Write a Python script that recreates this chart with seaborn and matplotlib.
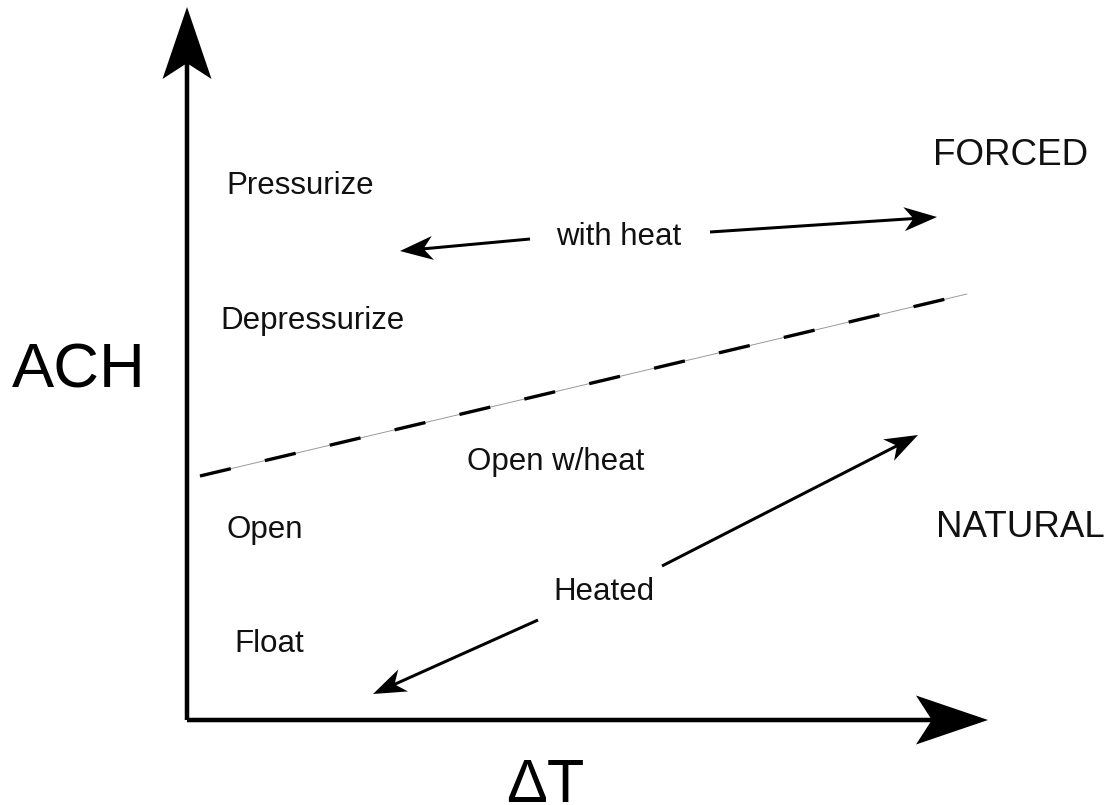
import matplotlib
matplotlib.use('Agg')
import matplotlib.pyplot as plt
import seaborn as sns
import pandas as pd

# conceptual plane: origin at the axis corner, ΔT to the right, ACH up
labels = ['Pressurize', 'Depressurize', 'with heat', 'Open w/heat', 'Open', 'Heated', 'Float']
label_x = [39, 33, 369, 280, 40, 366, 47]
label_y = [526, 391, 475, 250, 182, 120, 68]

regime_labels = ['FORCED', 'NATURAL']
regime_x = [746, 749]
regime_y = [555, 183]

# boundary between forced and natural regimes
boundary_dT = [13, 780]
boundary_ach = [244, 426]

# trend arrows (start -> tip)
arrow_start_x = [343, 523, 475, 351]
arrow_start_y = [481, 488, 154, 100]
arrow_tip_x = [213, 750, 731, 186]
arrow_tip_y = [469, 503, 285, 26]

axis_len_x = 801
axis_len_y = 713

sns.set_theme(style='white')
plt.rcParams['font.family'] = ['Liberation Sans', 'DejaVu Sans']

fig = plt.figure(figsize=(11.09, 8.05), dpi=100)
ax = fig.add_axes([0, 0, 1, 1])
ax.set_xlim(-187, 922)
ax.set_ylim(-85, 720)
ax.axis('off')

# main axes as big arrows
ax.arrow(0, 0, 0, axis_len_y, width=4.5, head_width=49, head_length=72,
         overhang=0.2, length_includes_head=True, color='black', lw=0)
ax.arrow(0, 0, axis_len_x, 0, width=4.5, head_width=49, head_length=72,
         overhang=0.2, length_includes_head=True, color='black', lw=0)

# dashed boundary with a thin grey line underneath
df = pd.DataFrame({'dT': boundary_dT, 'ACH': boundary_ach})
sns.lineplot(data=df, x='dT', y='ACH', ax=ax, color='#9a9a9a', lw=0.7)
sns.lineplot(data=df, x='dT', y='ACH', ax=ax, color='black', lw=2.4,
             linestyle=(0, (9.5, 10.5)))

for x0, y0, x1, y1 in zip(arrow_start_x, arrow_start_y, arrow_tip_x, arrow_tip_y):
    ax.arrow(x0, y0, x1 - x0, y1 - y0, width=3, head_width=24, head_length=33,
             overhang=0.25, length_includes_head=True, color='black', lw=0)

for t, x, y in zip(labels, label_x, label_y):
    ax.text(x, y, t, fontsize=22.5, ha='left', va='baseline', color='#111111')
for t, x, y in zip(regime_labels, regime_x, regime_y):
    ax.text(x, y, t, fontsize=26.5, ha='left', va='baseline', color='#111111')

ax.text(-175, 333, 'ACH', fontsize=45.5, ha='left', va='baseline', color='black')
ax.text(358, -82, 'ΔT', fontsize=44, ha='center', va='baseline', color='black')

fig.savefig('out.png', dpi=100)
